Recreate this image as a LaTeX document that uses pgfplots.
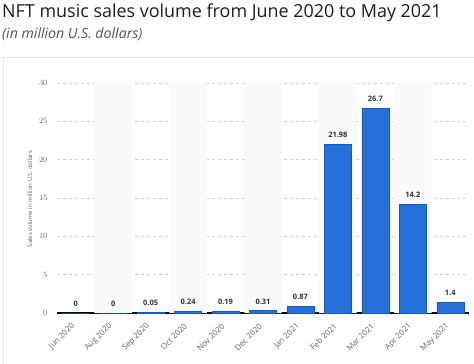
\documentclass[border=0pt]{standalone}
\usepackage{fontspec}
\setmainfont{Open Sans}
\usepackage{pgfplots}
\pgfplotsset{compat=1.18}
\definecolor{barblue}{RGB}{38,113,217}
\definecolor{baredge}{RGB}{25,90,190}
\definecolor{bandgray}{RGB}{250,250,250}
\definecolor{titlecol}{RGB}{30,30,30}
\definecolor{subcol}{RGB}{85,85,85}
\definecolor{tickcol}{RGB}{100,100,100}
\definecolor{valcol}{RGB}{50,50,50}
\begin{document}
\begin{tikzpicture}
\path[use as bounding box] (0bp,0bp) rectangle (474bp,364bp);
\fill[white] (0bp,0bp) rectangle (474bp,364bp);
\draw[black!10, line width=1bp] (3.5bp,-5bp) rectangle (480bp,306.5bp);
\node[anchor=base west, font=\fontsize{18}{20}\selectfont, text=titlecol, inner sep=0] at (2bp,346bp) {NFT music sales volume from June 2020 to May 2021};
\node[anchor=base west, font=\fontsize{14.2}{16}\selectfont\itshape, text=subcol, inner sep=0] at (2bp,325bp) {(in million U.S. dollars)};
\begin{axis}[
  at={(57bp,51bp)}, anchor=south west,
  scale only axis, width=412bp, height=230bp,
  xmin=-0.5, xmax=10.5, ymin=0, ymax=30,
  axis x line*=bottom, axis y line*=left,
  y axis line style={draw=none},
  x axis line style={black, line width=1.3bp},
  major tick length=0pt,
  ytick={0,5,10,15,20,25,30},
  ymajorgrids, grid style={dashed, black!18, line width=0.5bp},
  yticklabel style={font=\fontsize{8}{9}\selectfont, text=tickcol, xshift=-6bp},
  xtick={0,1,2,3,4,5,6,7,8,9,10},
  xticklabels={Jun 2020,Aug 2020,Sep 2020,Oct 2020,Nov 2020,Dec 2020,Jan 2021,Feb 2021,Mar 2021,Apr 2021,May 2021},
  xticklabel style={font=\fontsize{8}{9}\selectfont, text=tickcol, xshift=0bp, yshift=-9.5bp, rotate=45, anchor=east},
  ylabel={Sales volume in million U.S. dollars},
  ylabel style={font=\fontsize{6}{7}\selectfont, text=tickcol, xshift=-1bp},
  clip=false,
]
\addplot[ybar, bar width=37.45bp, bar shift=0pt, fill=bandgray, draw=none] coordinates {(1,30) (3,30) (5,30) (7,30) (9,30)};
\addplot[ybar, bar width=27bp, bar shift=0pt, fill=barblue, draw=baredge, line width=0.4bp,
  point meta=explicit symbolic,
  nodes near coords,
  every node near coord/.append style={font=\fontsize{7.5}{9}\selectfont\bfseries, text=valcol, anchor=south, yshift=3bp}]
 coordinates {
 (0,0) [0]
 (1,0) [0]
 (2,0.05) [0.05]
 (3,0.24) [0.24]
 (4,0.19) [0.19]
 (5,0.31) [0.31]
 (6,0.87) [0.87]
 (7,21.98) [21.98]
 (8,26.7) [26.7]
 (9,14.2) [14.2]
 (10,1.4) [1.4]
 };
\end{axis}
\end{tikzpicture}
\end{document}
